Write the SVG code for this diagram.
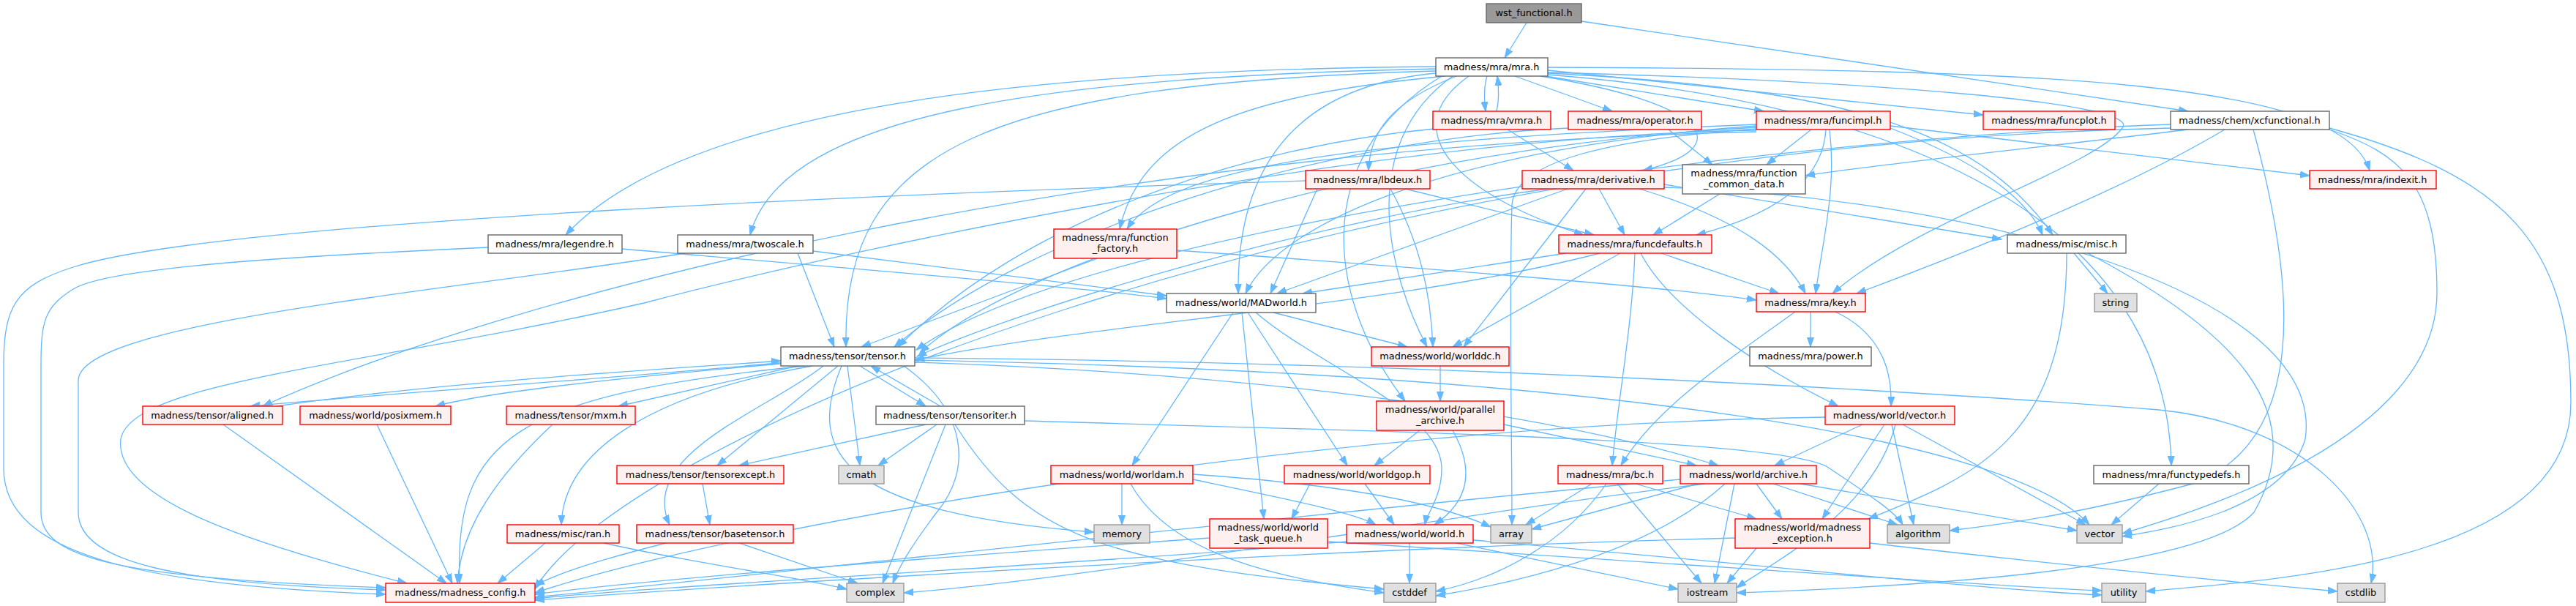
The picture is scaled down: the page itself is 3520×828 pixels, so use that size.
<svg xmlns="http://www.w3.org/2000/svg" width="3520" height="828" viewBox="0 0 3520 828">
<defs>
<style>
rect{stroke-width:1.4}
.w rect{fill:#ffffff;stroke:#666666}
.r rect{fill:#fff0f0;stroke:#ff0000}
.g rect{fill:#e0e0e0;stroke:#999999}
.root rect{fill:#999999;stroke:#666666}
text{font-family:"DejaVu Sans","Liberation Sans",sans-serif;font-size:12.9px;text-anchor:middle;fill:#000000}
#edges path{fill:none;stroke:#63b8ff;stroke-width:1.3}
</style>
<marker id="ah" markerUnits="userSpaceOnUse" markerWidth="14" markerHeight="10" refX="13" refY="5" orient="auto">
<path d="M0,0.5 L13,5 L0,9.5 z" fill="#63b8ff" stroke="#63b8ff" stroke-width="1"/>
</marker>
</defs>
<rect x="0" y="0" width="3520" height="828" fill="#ffffff"/>
<g id="edges" marker-end="url(#ah)">
<path d="M2086,31 L2056,79"/>
<path d="M2161,29 L2990,152"/>
<path d="M2032,104 C2027,120 2028,136 2030,152"/>
<path d="M2045,152 C2049,136 2048,120 2046,104"/>
<path d="M2070,104 L2203,152"/>
<path d="M2112,104 L2410,152"/>
<path d="M2115,96 L2710,157"/>
<path d="M1990,104 C1900,140 1872,180 1870,233"/>
<path d="M2105,104 C2330,140 2380,200 2245,233"/>
<path d="M1962,91 C1500,95 950,130 773,321"/>
<path d="M1962,94 C1450,105 1070,150 1025,321"/>
<path d="M1975,104 C1700,130 1560,180 1530,313"/>
<path d="M1962,97 C1350,115 1150,200 1156,474"/>
<path d="M1962,100 C1750,120 1690,250 1692,401"/>
<path d="M2007,104 C1900,180 2000,270 2164,321"/>
<path d="M1985,104 C1850,200 1900,380 1950,474"/>
<path d="M1970,104 C1780,220 1820,420 1920,548"/>
<path d="M2115,100 C2500,120 2700,170 2805,321"/>
<path d="M2115,99 C2550,110 2930,140 2900,175 C2860,230 2620,300 2504,401"/>
<path d="M2115,92 C2800,95 3200,110 3238,233"/>
<path d="M2115,102 C2600,140 2960,300 2967,636"/>
<path d="M2990,177 C2800,200 2600,220 2467,240"/>
<path d="M3040,177 C2900,260 2700,340 2537,401"/>
<path d="M2966,170 C2500,185 1500,300 1252,478"/>
<path d="M2966,175 C1800,200 850,600 731,805"/>
<path d="M3183,177 C3280,210 3330,250 3330,400 C3330,600 3000,700 2900,729"/>
<path d="M3079,177 C3140,400 3150,600 3000,660 C2850,700 2750,715 2664,725"/>
<path d="M3183,175 C3420,240 3513,330 3513,550 C3513,760 3150,790 2932,808"/>
<path d="M2060,177 L2150,233"/>
<path d="M1960,176 C1700,200 1400,300 1227,474"/>
<path d="M2280,177 L2340,225"/>
<path d="M2143,175 C1800,190 1400,320 1222,474"/>
<path d="M2475,177 L2414,225"/>
<path d="M2495,177 C2490,260 2400,300 2318,321"/>
<path d="M2500,177 C2510,260 2490,330 2481,401"/>
<path d="M2583,175 C2700,220 2770,270 2791,321"/>
<path d="M2583,172 L3156,240"/>
<path d="M2400,170 C1900,190 1600,220 1540,313"/>
<path d="M2400,172 C2000,200 1750,300 1702,401"/>
<path d="M2400,174 C1900,200 1400,350 1257,482"/>
<path d="M2400,176 C2200,190 2070,220 2066,280 C2062,400 2066,600 2066,717"/>
<path d="M2400,178 C1900,185 1200,330 880,414 C500,500 180,520 165,600 C155,680 330,740 556,797"/>
<path d="M2400,180 C1500,200 700,400 359,555"/>
<path d="M1920,258 L2178,321"/>
<path d="M1800,258 L1736,401"/>
<path d="M1900,258 C1940,330 1955,400 1958,474"/>
<path d="M1784,247 C1300,262 300,300 100,365 C20,390 5,420 5,500 L5,640 C5,760 200,800 527,812"/>
<path d="M2185,258 L2220,321"/>
<path d="M2240,258 C2380,300 2440,350 2467,401"/>
<path d="M2142,258 L1745,401"/>
<path d="M2115,258 C1800,300 1400,420 1253,487"/>
<path d="M2167,258 L2000,474"/>
<path d="M2274,252 L2735,327"/>
<path d="M2274,256 C2700,270 3180,400 3150,600 C3120,700 2950,725 2900,733"/>
<path d="M2350,265 L2259,321"/>
<path d="M850,340 C1200,370 1500,395 1594,408"/>
<path d="M667,338 C400,350 150,365 100,395 C60,420 56,440 56,500 L56,700 C56,760 150,790 527,803"/>
<path d="M1111,343 L1594,404"/>
<path d="M1090,346 L1140,474"/>
<path d="M936,346 C600,400 107,440 107,520 L107,700 C107,770 250,798 527,806"/>
<path d="M1608,342 C2000,370 2300,395 2400,410"/>
<path d="M1500,353 L1177,474"/>
<path d="M2140,346 L1780,401"/>
<path d="M2270,346 L2431,401"/>
<path d="M2214,346 L1985,474"/>
<path d="M2186,346 C1900,420 1500,440 1250,492"/>
<path d="M2234,346 C2230,450 2210,550 2203,636"/>
<path d="M2242,346 C2280,420 2400,500 2512,555"/>
<path d="M2834,346 L2880,401"/>
<path d="M2824,346 C2824,600 2700,650 2553,709"/>
<path d="M2853,346 C3050,450 3160,560 3080,700 C3000,790 2500,805 2373,810"/>
<path d="M2474,426 L2474,474"/>
<path d="M2508,426 C2580,460 2585,520 2584,555"/>
<path d="M2453,426 C2350,500 2260,560 2215,636"/>
<path d="M1740,427 L1923,474"/>
<path d="M1685,427 L1547,636"/>
<path d="M1697,427 L1727,709"/>
<path d="M1705,427 L1841,636"/>
<path d="M1716,427 C1800,500 1970,560 1970,640 C1970,680 1950,700 1947,717"/>
<path d="M1075,495 C800,520 500,540 342,555"/>
<path d="M378,555 C600,522 900,505 1067,493"/>
<path d="M1067,497 C800,520 650,540 595,555"/>
<path d="M1090,500 L845,555"/>
<path d="M1100,500 C700,540 620,600 628,797"/>
<path d="M1110,500 C880,540 770,620 767,717"/>
<path d="M1145,500 L980,636"/>
<path d="M1125,500 C1050,560 870,620 915,717"/>
<path d="M1175,500 L1265,555"/>
<path d="M1285,555 L1190,500"/>
<path d="M1158,500 L1175,636"/>
<path d="M1235,500 C1320,560 1330,640 1280,700 C1250,740 1230,770 1220,797"/>
<path d="M1150,500 C1100,620 1150,700 1495,727"/>
<path d="M1250,495 C1700,510 2100,560 2348,636"/>
<path d="M1250,489 C2000,495 2700,540 2950,560 C3150,580 3260,700 3240,797"/>
<path d="M1250,492 C2200,510 2750,600 2855,717"/>
<path d="M1265,580 L1010,636"/>
<path d="M1280,580 L1200,636"/>
<path d="M1292,580 L1206,797"/>
<path d="M1305,580 C1400,730 1500,770 1891,805"/>
<path d="M1400,575 C1900,590 2450,600 2500,640 C2560,680 2590,700 2600,717"/>
<path d="M1968,500 L1968,548"/>
<path d="M1940,588 L1878,636"/>
<path d="M1985,588 C2020,650 2000,690 1960,717"/>
<path d="M2055,580 L2318,636"/>
<path d="M2545,580 L2425,636"/>
<path d="M2575,580 L2490,709"/>
<path d="M2585,580 L2615,717"/>
<path d="M2600,580 L2850,717"/>
<path d="M2590,580 C2560,700 2420,770 2373,803"/>
<path d="M2494,570 C1800,580 1000,720 731,810"/>
<path d="M960,661 L970,717"/>
<path d="M1533,661 L1533,717"/>
<path d="M1630,655 C1750,680 1850,700 1880,717"/>
<path d="M1545,661 C1600,760 1750,790 1891,810"/>
<path d="M1630,648 C1800,660 1950,680 2037,720"/>
<path d="M1790,661 L1765,709"/>
<path d="M1865,661 L1905,717"/>
<path d="M2175,661 L2085,717"/>
<path d="M2235,661 L2400,709"/>
<path d="M2210,661 L2325,797"/>
<path d="M2195,661 C2140,740 2050,790 1962,808"/>
<path d="M2320,661 L2093,723"/>
<path d="M2400,661 L2435,709"/>
<path d="M2423,661 L2593,717"/>
<path d="M2460,661 L2838,725"/>
<path d="M2370,661 L2343,797"/>
<path d="M2357,661 C2250,760 2050,800 1962,814"/>
<path d="M2330,661 C2000,700 1500,790 1235,810"/>
<path d="M2296,655 C1800,700 1000,790 731,816"/>
<path d="M2950,661 L2885,717"/>
<path d="M745,742 L680,797"/>
<path d="M825,742 C950,770 1100,790 1157,805"/>
<path d="M910,742 C800,770 760,785 731,800"/>
<path d="M1010,742 L1172,797"/>
<path d="M1653,735 C1300,760 900,790 731,812"/>
<path d="M1814,740 C2300,770 2700,800 2872,807"/>
<path d="M1926,742 L1926,797"/>
<path d="M1990,742 L2293,805"/>
<path d="M1840,740 C1500,770 900,800 731,818"/>
<path d="M2013,738 C2400,770 2700,805 2872,813"/>
<path d="M2555,742 C2800,770 3050,795 3194,808"/>
<path d="M2400,749 L2360,797"/>
<path d="M2371,735 C1800,750 1000,800 731,820"/>
<path d="M305,580 L610,797"/>
<path d="M515,580 L618,797"/>
<path d="M755,580 C680,650 630,720 625,797"/>
</g>
<g id="n_wst" class="root"><rect x="2031" y="5" width="130" height="26"/><text x="2096" y="22">wst_functional.h</text></g>
<g id="n_mra" class="w"><rect x="1962" y="79" width="153" height="25"/><text x="2038" y="96">madness/mra/mra.h</text></g>
<g id="n_xcf" class="w"><rect x="2966" y="152" width="217" height="25"/><text x="3074" y="169">madness/chem/xcfunctional.h</text></g>
<g id="n_vmra" class="r"><rect x="1958" y="152" width="161" height="25"/><text x="2038" y="169">madness/mra/vmra.h</text></g>
<g id="n_operator" class="r"><rect x="2143" y="152" width="182" height="25"/><text x="2234" y="169">madness/mra/operator.h</text></g>
<g id="n_funcimpl" class="r"><rect x="2400" y="152" width="183" height="25"/><text x="2491" y="169">madness/mra/funcimpl.h</text></g>
<g id="n_funcplot" class="r"><rect x="2710" y="152" width="180" height="25"/><text x="2800" y="169">madness/mra/funcplot.h</text></g>
<g id="n_lbdeux" class="r"><rect x="1784" y="233" width="170" height="25"/><text x="1869" y="250">madness/mra/lbdeux.h</text></g>
<g id="n_derivative" class="r"><rect x="2080" y="233" width="194" height="25"/><text x="2177" y="250">madness/mra/derivative.h</text></g>
<g id="n_fcd" class="w"><rect x="2299" y="225" width="168" height="40"/><text x="2383" y="241">madness/mra/function</text><text x="2383" y="256">_common_data.h</text></g>
<g id="n_indexit" class="r"><rect x="3156" y="233" width="173" height="25"/><text x="3242" y="250">madness/mra/indexit.h</text></g>
<g id="n_legendre" class="w"><rect x="667" y="321" width="183" height="25"/><text x="758" y="338">madness/mra/legendre.h</text></g>
<g id="n_twoscale" class="w"><rect x="926" y="321" width="185" height="25"/><text x="1018" y="338">madness/mra/twoscale.h</text></g>
<g id="n_ffactory" class="r"><rect x="1440" y="313" width="168" height="40"/><text x="1524" y="329">madness/mra/function</text><text x="1524" y="344">_factory.h</text></g>
<g id="n_funcdefaults" class="r"><rect x="2130" y="321" width="209" height="25"/><text x="2234" y="338">madness/mra/funcdefaults.h</text></g>
<g id="n_misc" class="w"><rect x="2743" y="321" width="162" height="25"/><text x="2824" y="338">madness/misc/misc.h</text></g>
<g id="n_madworld" class="w"><rect x="1594" y="401" width="204" height="26"/><text x="1696" y="418">madness/world/MADworld.h</text></g>
<g id="n_key" class="r"><rect x="2400" y="401" width="149" height="25"/><text x="2474" y="418">madness/mra/key.h</text></g>
<g id="n_string" class="g"><rect x="2862" y="401" width="58" height="25"/><text x="2891" y="418">string</text></g>
<g id="n_tensor" class="w"><rect x="1067" y="474" width="183" height="26"/><text x="1158" y="491">madness/tensor/tensor.h</text></g>
<g id="n_worlddc" class="r"><rect x="1874" y="474" width="188" height="26"/><text x="1968" y="491">madness/world/worlddc.h</text></g>
<g id="n_power" class="w"><rect x="2391" y="474" width="166" height="26"/><text x="2474" y="491">madness/mra/power.h</text></g>
<g id="n_aligned" class="r"><rect x="195" y="555" width="191" height="25"/><text x="290" y="572">madness/tensor/aligned.h</text></g>
<g id="n_posixmem" class="r"><rect x="410" y="555" width="206" height="25"/><text x="513" y="572">madness/world/posixmem.h</text></g>
<g id="n_mxm" class="r"><rect x="692" y="555" width="176" height="25"/><text x="780" y="572">madness/tensor/mxm.h</text></g>
<g id="n_tensoriter" class="w"><rect x="1197" y="555" width="203" height="25"/><text x="1298" y="572">madness/tensor/tensoriter.h</text></g>
<g id="n_parallel" class="r"><rect x="1881" y="548" width="174" height="40"/><text x="1968" y="564">madness/world/parallel</text><text x="1968" y="579">_archive.h</text></g>
<g id="n_wvector" class="r"><rect x="2494" y="555" width="177" height="25"/><text x="2582" y="572">madness/world/vector.h</text></g>
<g id="n_tensorexcept" class="r"><rect x="843" y="636" width="228" height="25"/><text x="957" y="653">madness/tensor/tensorexcept.h</text></g>
<g id="n_cmath" class="g"><rect x="1146" y="636" width="62" height="25"/><text x="1177" y="653">cmath</text></g>
<g id="n_worldam" class="r"><rect x="1436" y="636" width="194" height="25"/><text x="1533" y="653">madness/world/worldam.h</text></g>
<g id="n_worldgop" class="r"><rect x="1755" y="636" width="199" height="25"/><text x="1854" y="653">madness/world/worldgop.h</text></g>
<g id="n_bc" class="r"><rect x="2129" y="636" width="143" height="25"/><text x="2200" y="653">madness/mra/bc.h</text></g>
<g id="n_archive" class="r"><rect x="2296" y="636" width="186" height="25"/><text x="2389" y="653">madness/world/archive.h</text></g>
<g id="n_functypedefs" class="w"><rect x="2861" y="636" width="212" height="25"/><text x="2967" y="653">madness/mra/functypedefs.h</text></g>
<g id="n_ran" class="r"><rect x="693" y="717" width="153" height="25"/><text x="769" y="734">madness/misc/ran.h</text></g>
<g id="n_basetensor" class="r"><rect x="870" y="717" width="214" height="25"/><text x="977" y="734">madness/tensor/basetensor.h</text></g>
<g id="n_memory" class="g"><rect x="1495" y="717" width="76" height="25"/><text x="1533" y="734">memory</text></g>
<g id="n_wtq" class="r"><rect x="1653" y="709" width="161" height="40"/><text x="1733" y="725">madness/world/world</text><text x="1733" y="740">_task_queue.h</text></g>
<g id="n_world" class="r"><rect x="1840" y="717" width="173" height="25"/><text x="1926" y="734">madness/world/world.h</text></g>
<g id="n_array" class="g"><rect x="2037" y="717" width="56" height="25"/><text x="2065" y="734">array</text></g>
<g id="n_mexc" class="r"><rect x="2371" y="709" width="184" height="40"/><text x="2463" y="725">madness/world/madness</text><text x="2463" y="740">_exception.h</text></g>
<g id="n_algorithm" class="g"><rect x="2579" y="717" width="85" height="25"/><text x="2621" y="734">algorithm</text></g>
<g id="n_vector" class="g"><rect x="2838" y="717" width="62" height="25"/><text x="2869" y="734">vector</text></g>
<g id="n_config" class="r"><rect x="527" y="797" width="204" height="26"/><text x="629" y="814">madness/madness_config.h</text></g>
<g id="n_complex" class="g"><rect x="1157" y="797" width="78" height="26"/><text x="1196" y="814">complex</text></g>
<g id="n_cstddef" class="g"><rect x="1891" y="797" width="71" height="26"/><text x="1926" y="814">cstddef</text></g>
<g id="n_iostream" class="g"><rect x="2293" y="797" width="80" height="26"/><text x="2333" y="814">iostream</text></g>
<g id="n_utility" class="g"><rect x="2872" y="797" width="60" height="26"/><text x="2902" y="814">utility</text></g>
<g id="n_cstdlib" class="g"><rect x="3194" y="797" width="65" height="26"/><text x="3226" y="814">cstdlib</text></g>
</svg>
